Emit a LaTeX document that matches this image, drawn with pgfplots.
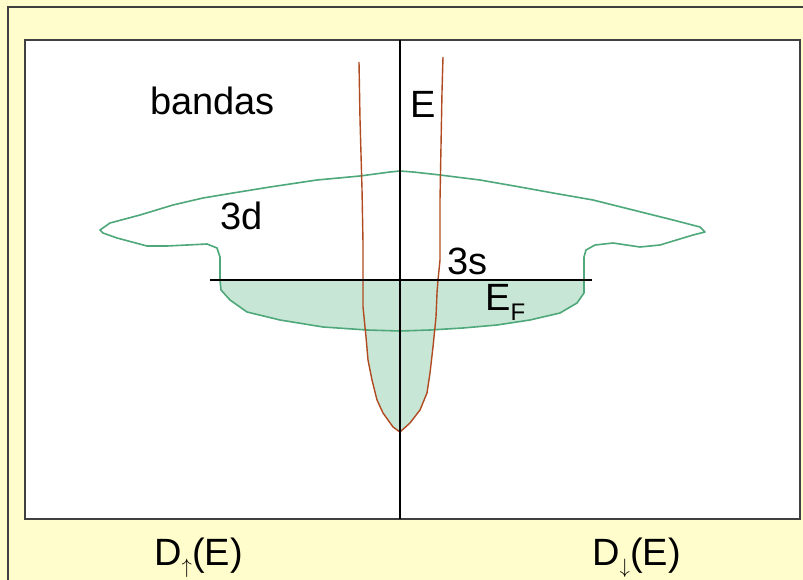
\documentclass[border=0pt]{standalone}
\usepackage{pgfplots}
\pgfplotsset{compat=1.18}
\usepackage{fontspec}
\setmainfont{Liberation Sans}

\definecolor{paper}{HTML}{FFFDCC}
\definecolor{dline}{HTML}{4EA87A}
\definecolor{dfill}{HTML}{C8E6D5}
\definecolor{sband}{HTML}{B04A20}
\newcommand{\lbl}{\fontsize{38}{40}\selectfont}
\newcommand{\sub}[1]{\raisebox{-10pt}{\fontsize{24}{24}\selectfont #1}}

\begin{document}
\begin{tikzpicture}[x=1pt,y=1pt]
% page background and frame
\fill[paper] (0,0) rectangle (803,-580);
\draw[line width=2pt, black!75] (8,-580) -- (8,-7) -- (803,-7);
\begin{axis}[
  at={(25pt,-519pt)}, anchor=south west,
  scale only axis, width=775pt, height=479pt,
  xmin=-375, xmax=400, ymin=0, ymax=479,
  ticks=none, clip=false,
  axis background/.style={fill=white},
  axis line style={line width=2pt, black!75},
]
% occupied 3d states below the Fermi level
\addplot[fill=dfill, draw=none] coordinates {
  (-180,239) (184,239) (184,226) (177,216) (160,206) (130,199) (97,194)
  (63,191) (30,189) (0,188) (-33,189) (-77,192) (-120,199) (-153,207)
  (-170,219) (-179,229) (-180,239)} -- cycle;
% occupied 3s states below the Fermi level
\addplot[fill=dfill, draw=none] coordinates {
  (-37,239) (-37,212) (-34,182) (-32,159) (-28,139) (-23,119) (-17,106)
  (-7,92) (0,87) (10,96) (20,109) (27,126) (30,146) (33,172) (36,202)
  (37,226) (38,239)} -- cycle;
% 3d band outline
\addplot[dline, line width=1.6pt, line join=round] coordinates {
  (-300,289) (-290,296) (-260,304) (-227,314) (-197,321) (-167,326)
  (-130,332) (-83,339) (-40,343) (-10,347) (0,348) (13,347) (40,344)
  (80,339) (120,332) (153,326) (193,319) (233,309) (273,299) (300,292)
  (305,287) (293,284) (260,274) (240,272) (213,276) (195,274) (186,269)
  (184,262) (184,239) (184,226) (177,216) (160,206) (130,199) (97,194)
  (63,191) (30,189) (0,188) (-33,189) (-77,192) (-120,199) (-153,207)
  (-170,219) (-179,229) (-180,239) (-180,262) (-183,271) (-193,275)
  (-233,273) (-253,273) (-283,281) (-297,286)} -- cycle;
% 3s band
\addplot[sband, line width=1.4pt, line join=round] coordinates {
  (-41,457) (-40,400) (-38,330) (-37,276) (-37,239) (-37,212) (-34,182)
  (-32,159) (-28,139) (-23,119) (-17,106) (-7,92) (0,87) (10,96) (20,109)
  (27,126) (30,146) (33,172) (36,202) (37,226) (38,239) (39,249) (40,259)
  (40,319) (42,427) (43,462)};
% Fermi level and energy axis
\addplot[black, line width=1.4pt] coordinates {(-190,239) (192,239)};
\addplot[black, line width=1.4pt] coordinates {(0,0) (0,479)};
% labels
\node[anchor=base west, inner sep=0] at (axis cs:-250,404) {\lbl bandas};
\node[anchor=base west, inner sep=0] at (axis cs:10,401) {\lbl E};
\node[anchor=base west, inner sep=0] at (axis cs:-180,290) {\lbl 3d};
\node[anchor=base west, inner sep=0] at (axis cs:47,245) {\lbl 3s};
\node[anchor=base west, inner sep=0] at (axis cs:85,209) {\lbl E\sub{F}};
\node[anchor=base west, inner sep=0] at (axis cs:-246,-46)
  {\lbl D\raisebox{-8pt}{\fontsize{20}{20}\selectfont$\uparrow$}(E)};
\node[anchor=base west, inner sep=0] at (axis cs:192,-46)
  {\lbl D\raisebox{-8pt}{\fontsize{20}{20}\selectfont$\downarrow$}(E)};
\end{axis}
\pgfresetboundingbox
\useasboundingbox (0,0) rectangle (803,-580);
\end{tikzpicture}
\end{document}
